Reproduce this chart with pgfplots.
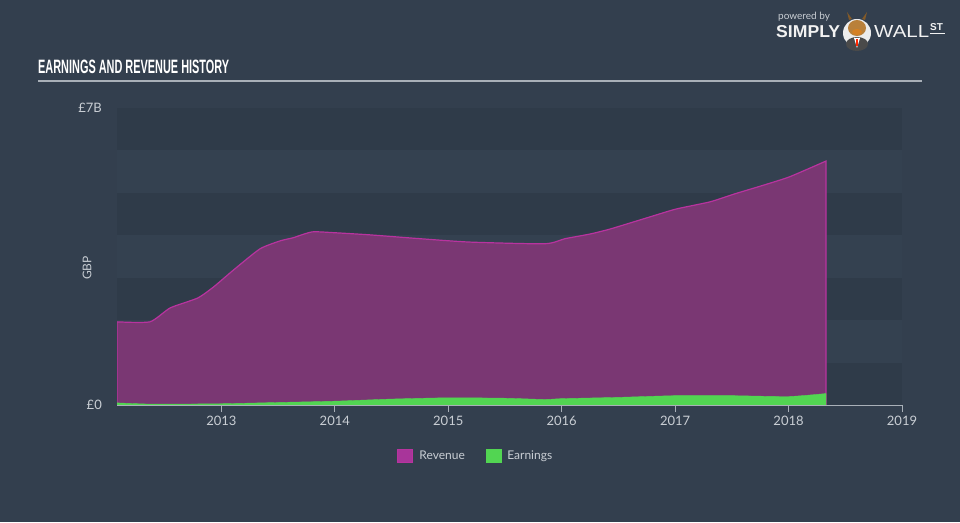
\documentclass[border=0pt]{standalone}
\usepackage{pgfplots}
\pgfplotsset{compat=1.18}
\usepackage{fontspec}
\setmainfont{Lato}
\newfontfamily\titlefont{Liberation Sans}
\definecolor{bg}{HTML}{333F4E}
\definecolor{banddark}{HTML}{2F3B49}
\definecolor{bandlight}{HTML}{344150}
\definecolor{revfill}{HTML}{7A3773}
\definecolor{revline}{HTML}{B8339F}
\definecolor{revleg}{HTML}{A8359A}
\definecolor{earn}{HTML}{52D552}
\definecolor{txt}{HTML}{C9CED4}
\definecolor{axisgray}{HTML}{A9B0B8}
\definecolor{bull}{HTML}{B9803A}
\definecolor{suit}{HTML}{4A4A4A}
\begin{document}
\begin{tikzpicture}[x=1pt,y=1pt]
\fill[bg] (0,0) rectangle (960,522);
\useasboundingbox (0,0) rectangle (960,522);
% title
\node[anchor=south west,inner sep=0,text=white] at (38,448) {\resizebox{191pt}{13.5pt}{\titlefont\bfseries EARNINGS AND REVENUE HISTORY}};
\draw[axisgray,line width=1.8pt] (38,441) -- (922,441);
% logo
\node[anchor=west,inner sep=0,text=txt,font=\fontsize{10}{11}\selectfont] at (778,505) {powered by};
\node[anchor=west,inner sep=0,text=white!90!gray] at (776,490) {\resizebox{64pt}{12pt}{\titlefont\bfseries SIMPLY}};
\fill[white!85!gray] (857,489) circle (14);
\fill[suit] (857,478) ellipse (11 and 7);
\fill[white] (854,484) -- (860,484) -- (857,474) -- cycle;
\fill[red!70!orange] (856,483) rectangle (858,476);
\fill[bull] (857,494) ellipse (9 and 8);
\fill[bull!70!black] (849,502) -- (847,510) -- (852,503) -- cycle;
\fill[bull!70!black] (865,502) -- (867,510) -- (862,503) -- cycle;
\fill[orange!40!bull] (857,490) ellipse (5 and 3);
\node[anchor=west,inner sep=0,text=white!90!gray] at (874,490) {\resizebox{55pt}{12pt}{\titlefont WALL}};
\node[anchor=west,inner sep=0,text=white!90!gray,font=\fontsize{10}{11}\selectfont\titlefont\bfseries] at (930,495) {ST};
\draw[white!90!gray,line width=1pt] (930,488) -- (945,488);
\begin{axis}[
  at={(117pt,117pt)}, anchor=south west,
  scale only axis, width=785pt, height=297pt,
  xmin=2012.08, xmax=2019, ymin=0, ymax=7,
  axis lines=none,
  clip=true,
  legend style={at={(0.457,-0.172)},anchor=center,draw=none,fill=none,
    text=txt,font=\fontsize{12}{13}\selectfont,legend columns=2,
    /tikz/every odd column/.append style={column sep=4pt},
    /tikz/every even column/.append style={column sep=19pt}},
  legend image code/.code={\fill[#1] (0pt,-6.5pt) rectangle (15pt,6.5pt);},
]
\fill[banddark] (axis cs:2012.08,0) rectangle (axis cs:2019,1);
\fill[bandlight] (axis cs:2012.08,1) rectangle (axis cs:2019,2);
\fill[banddark] (axis cs:2012.08,2) rectangle (axis cs:2019,3);
\fill[bandlight] (axis cs:2012.08,3) rectangle (axis cs:2019,4);
\fill[banddark] (axis cs:2012.08,4) rectangle (axis cs:2019,5);
\fill[bandlight] (axis cs:2012.08,5) rectangle (axis cs:2019,6);
\fill[banddark] (axis cs:2012.08,6) rectangle (axis cs:2019,7);
\addplot[draw=revline, line width=1.2pt, fill=revfill, smooth, tension=0.35,
  legend image post style={fill=revleg,draw=none}] coordinates {
(2012.08,1.96) (2012.37,1.96) (2012.55,2.29) (2012.79,2.52) (2012.93,2.78)
(2013.106,3.18) (2013.34,3.68) (2013.52,3.87) (2013.63,3.94) (2013.80,4.08)
(2014.0,4.06) (2014.31,4.01) (2014.75,3.92) (2015.19,3.84) (2015.85,3.80)
(2016.03,3.92) (2016.25,4.03) (2016.43,4.15) (2016.81,4.46) (2017.01,4.62)
(2017.31,4.79) (2017.53,4.98) (2017.79,5.19) (2018.01,5.38) (2018.33,5.75)
} \closedcycle;
\addlegendentry{Revenue}
\addplot[draw=earn, fill=earn, smooth, tension=0.35,
  legend image post style={fill=earn,draw=none}] coordinates {
(2012.08,0.05) (2012.4,0.02) (2013,0.03) (2013.5,0.06) (2014,0.09) (2014.5,0.14)
(2015,0.17) (2015.5,0.16) (2015.85,0.13) (2016,0.15) (2016.5,0.18) (2017,0.22)
(2017.5,0.22) (2018,0.2) (2018.33,0.27)
} \closedcycle;
\addlegendentry{Earnings}
\end{axis}
\begin{axis}[
  at={(117pt,117pt)}, anchor=south west,
  scale only axis, width=785pt, height=297pt,
  xmin=2012.08, xmax=2019, ymin=0, ymax=7,
  axis x line*=bottom, axis y line=none,
  x axis line style={draw=axisgray,line width=0.9pt,-},
  xtick={2013,2014,2015,2016,2017,2018,2019},
  xticklabels={2013,2014,2015,2016,2017,2018,2019},
  xtick style={draw=axisgray,line width=0.9pt},
  tick align=outside, major tick length=7pt,
  xticklabel style={text=txt,font=\fontsize{13}{14}\selectfont,yshift=-1pt},
  ytick=\empty,
]
\addplot[draw=none] coordinates {(2013,0)};
\end{axis}
\node[anchor=east,text=txt,font=\fontsize{13}{14}\selectfont,inner sep=0] at (102,117) {£0};
\node[anchor=east,text=txt,font=\fontsize{13}{14}\selectfont,inner sep=0] at (102,414) {£7B};
\node[rotate=90,text=txt,font=\fontsize{12}{13}\selectfont,inner sep=0] at (87,254) {GBP};
\end{tikzpicture}
\end{document}
